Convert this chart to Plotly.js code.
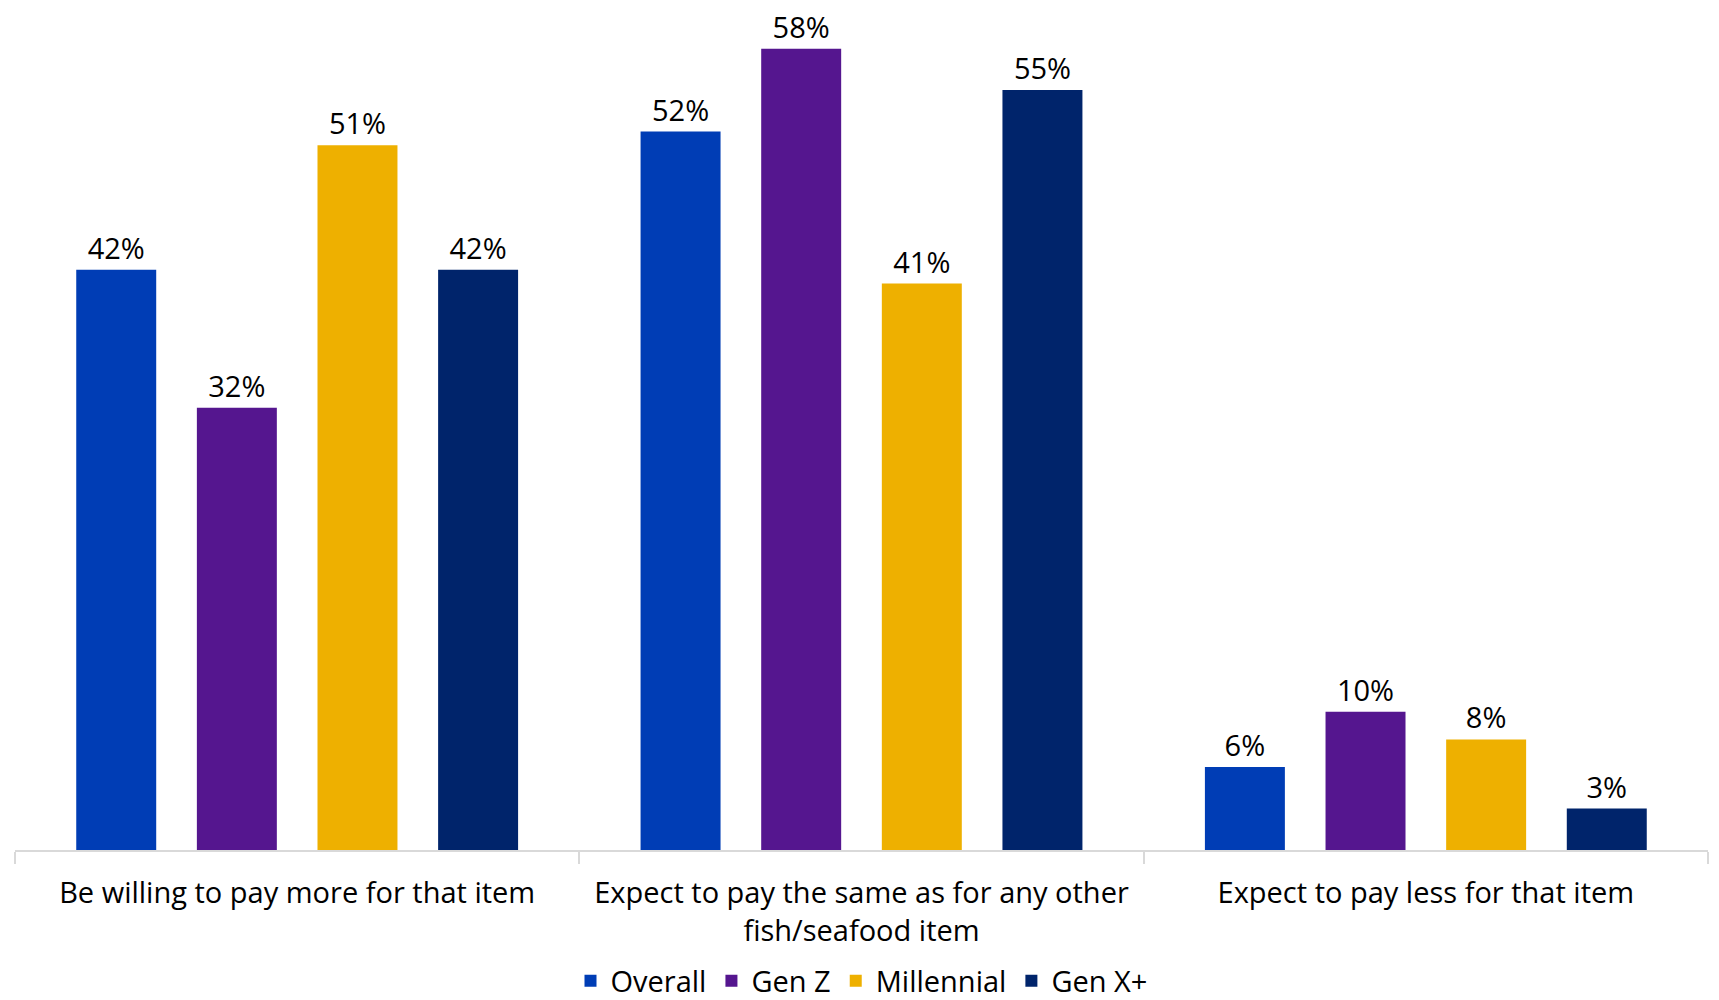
<!DOCTYPE html>
<html>
<head>
<meta charset="utf-8">
<script src="https://cdn.plot.ly/plotly-3.0.1.min.js"></script>
<style>html,body{margin:0;padding:0;background:#fff;}#chart{width:1719px;height:1000px;}</style>
</head>
<body>
<div id="chart"></div>
<script>
const categories = ["Be willing to pay more for that item", "Expect to pay the same as for any other<br>fish/seafood item", "Expect to pay less for that item"];
const seriesNames = ["Overall", "Gen Z", "Millennial", "Gen X+"];
const overall = [42, 52, 6];
const genZ = [32, 58, 10];
const millennial = [51, 41, 8];
const genXPlus = [42, 55, 3];
const colors = ["#003DB5", "#55168F", "#EEB000", "#00246B"];

const values = [overall, genZ, millennial, genXPlus];
const traces = values.map((v, i) => ({
  type: "bar",
  name: seriesNames[i],
  x: categories,
  y: v,
  text: v.map(d => d + "%"),
  textposition: "outside",
  cliponaxis: false,
  textfont: {size: 29, color: "#000"},
  marker: {color: colors[i]},
  hoverinfo: "skip"
}));

const layout = {
  width: 1719,
  height: 1000,
  margin: {l: 15, r: 11, t: 21, b: 150, autoexpand: false},
  barmode: "group",
  bargap: 0.145,
  bargroupgap: 0.337,
  font: {family: "Open Sans, Noto Sans, sans-serif", color: "#000", size: 29},
  paper_bgcolor: "#fff",
  plot_bgcolor: "#fff",
  showlegend: true,
  legend: {orientation: "h", x: 0.5, xanchor: "center", yref: "container", y: 0.019, yanchor: "middle", font: {size: 29}, traceorder: "normal"},
  xaxis: {
    automargin: false,
    showline: true, linecolor: "#d9d9d9", linewidth: 2,
    ticks: "outside", tickson: "boundaries", ticklen: 12, tickcolor: "#d9d9d9", tickwidth: 2,
    ticklabelstandoff: 16,
    tickfont: {size: 29, color: "#000"}, showgrid: false, zeroline: false
  },
  yaxis: {range: [0, 60], visible: false, showgrid: false, zeroline: false, automargin: false}
};

Plotly.newPlot("chart", traces, layout, {displayModeBar: false, staticPlot: true});
</script>
</body>
</html>
